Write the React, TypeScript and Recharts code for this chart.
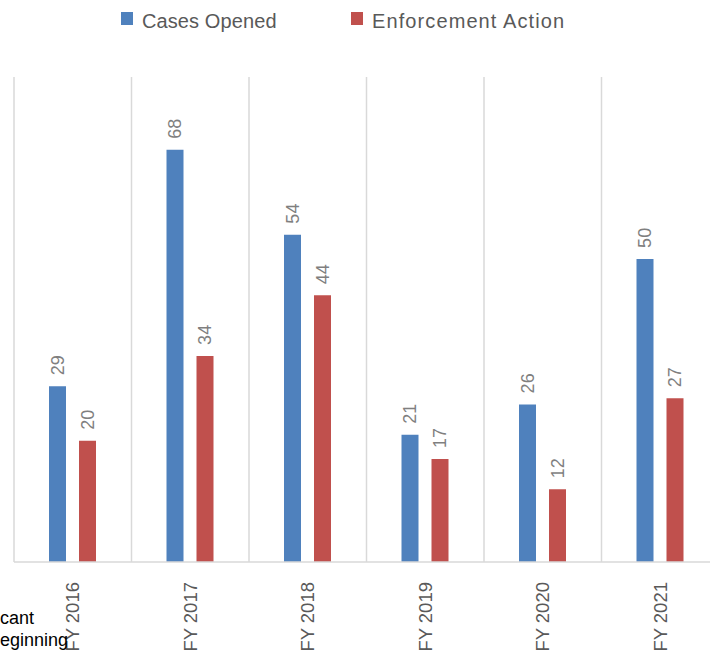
import React from "react";
import { BarChart, Bar, XAxis, YAxis, CartesianGrid, Legend, LabelList } from "recharts";

const categories = ["FY 2016", "FY 2017", "FY 2018", "FY 2019", "FY 2020", "FY 2021"];
const casesOpened = [29, 68, 54, 21, 26, 50];
const enforcementAction = [20, 34, 44, 17, 12, 27];
const seriesNames = ["Cases Opened", "Enforcement Action"];
const seriesColors = ["#4F81BD", "#C0504D"];

const data = categories.map((c, i) => ({
  name: c,
  cases: casesOpened[i],
  enforcement: enforcementAction[i],
}));

const FONT = "'Liberation Sans', Arial, sans-serif";

const DataLabel = (props: any) => {
  const { x, y, width, value } = props;
  const cx = Number(x) + Number(width) / 2;
  const ty = Number(y) - 11;
  return (
    <text
      x={cx}
      y={ty}
      transform={`rotate(-90, ${cx}, ${ty})`}
      textAnchor="start"
      dominantBaseline="central"
      fill="#7f7f7f"
      fontSize={18}
      fontFamily={FONT}
    >
      {value}
    </text>
  );
};

const XTick = (props: any) => {
  const { x, y, payload } = props;
  const ty = Number(y) + 12;
  return (
    <text
      x={x}
      y={ty}
      transform={`rotate(-90, ${x}, ${ty})`}
      textAnchor="end"
      dominantBaseline="central"
      fill="#595959"
      fontSize={18.5}
      fontFamily={FONT}
    >
      {payload.value}
    </text>
  );
};

const legendPos = [
  { sq: 121, tx: 142, ls: 0.1 },
  { sq: 351, tx: 372, ls: 1.1 },
];

const LegendContent = () => (
  <div style={{ position: "relative", width: 710, height: 77 }}>
    {seriesNames.map((n, i) => (
      <React.Fragment key={n}>
        <div
          style={{
            position: "absolute",
            left: legendPos[i].sq,
            top: 12,
            width: 12,
            height: 13,
            background: seriesColors[i],
          }}
        />
        <div
          style={{
            position: "absolute",
            left: legendPos[i].tx,
            top: 8,
            fontSize: 20,
            lineHeight: "26px",
            letterSpacing: legendPos[i].ls,
            color: "#595959",
            fontFamily: FONT,
            whiteSpace: "nowrap",
          }}
        >
          {n}
        </div>
      </React.Fragment>
    ))}
  </div>
);

export default function App() {
  return (
    <div
      style={{
        position: "absolute",
        left: 0,
        top: 0,
        width: 710,
        height: 655,
        overflow: "hidden",
        background: "#fff",
      }}
    >
      <BarChart
        width={730}
        height={655}
        data={data}
        margin={{ top: 0, right: 11, bottom: 0, left: 14 }}
        barGap={13}
        barSize={17}
        style={{ fontFamily: FONT }}
      >
        <CartesianGrid
          horizontal={false}
          stroke="#d9d9d9"
          strokeWidth={1.5}
          verticalCoordinatesGenerator={({ offset }: any) =>
            Array.from(
              { length: categories.length + 1 },
              (_, i) => offset.left + (i * offset.width) / categories.length
            )
          }
        />
        <XAxis
          dataKey="name"
          height={93}
          tickLine={false}
          axisLine={{ stroke: "#d9d9d9", strokeWidth: 1.5 }}
          tick={<XTick />}
          interval={0}
        />
        <YAxis hide domain={[0, 80]} />
        <Legend
          verticalAlign="top"
          content={<LegendContent />}
          wrapperStyle={{ top: 0, left: 0, width: 710, height: 77 }}
        />
        <Bar dataKey="cases" name={seriesNames[0]} fill={seriesColors[0]} isAnimationActive={false}>
          <LabelList dataKey="cases" content={<DataLabel />} />
        </Bar>
        <Bar dataKey="enforcement" name={seriesNames[1]} fill={seriesColors[1]} isAnimationActive={false}>
          <LabelList dataKey="enforcement" content={<DataLabel />} />
        </Bar>
      </BarChart>
      <div
        style={{
          position: "absolute",
          left: 0,
          top: 607,
          fontFamily: FONT,
          fontSize: 18,
          lineHeight: "22px",
          color: "#000",
          whiteSpace: "nowrap",
        }}
      >
        <div>cant</div>
        <div>eginning</div>
      </div>
    </div>
  );
}
